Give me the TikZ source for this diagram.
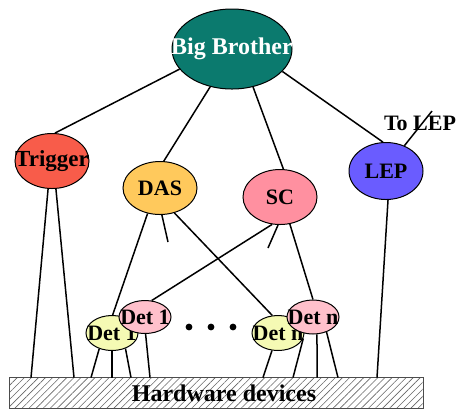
\documentclass[tikz,border=0pt]{standalone}
\usepackage{fontspec}
\setmainfont{Liberation Serif}
\usetikzlibrary{shapes.geometric,patterns.meta}
\definecolor{bbTeal}{HTML}{0B7A6E}
\definecolor{triggerRed}{HTML}{F85C4A}
\definecolor{dasYellow}{HTML}{FFC95C}
\definecolor{scPink}{HTML}{FF90A0}
\definecolor{lepBlue}{HTML}{6A5CFF}
\definecolor{detPink}{HTML}{FFC0CB}
\definecolor{detYellow}{HTML}{F5FAB4}
\newcommand\unitFont{\bfseries\fontsize{11}{13}\selectfont}
\newcommand\detFont{\bfseries\fontsize{8.5}{10}\selectfont}
\tikzset{
  unitEllipse/.style={
    ellipse,
    draw,
    line width=0.5pt,
    inner sep=0pt,
    minimum width=37pt,
    minimum height=27.5pt
  },
  detEllipse/.style={
    unitEllipse,
    minimum width=26pt,
    minimum height=17pt,
    every label/.append style={font=\detFont}
  },
  every label/.style={font=\unitFont, inner sep=0pt},
  link/.style={line width=0.75pt},
  hardwareBox/.style={
    draw=black!70,
    line width=0.5pt,
    pattern={Lines[angle=45,distance=2.5pt,line width=0.3pt]},
    pattern color=black!60,
    minimum width=207pt,
    minimum height=15pt,
    font=\bfseries\fontsize{12}{14}\selectfont
  }
}

\begin{document}
\begin{tikzpicture}[x=0.5pt,y=-0.5pt]
    \useasboundingbox (0,0) rectangle (460,409);

    % top level
    \node[unitEllipse, fill=bbTeal, minimum width=60pt, minimum height=40pt,
      label={[text=white, font=\bfseries\fontsize{12}{14}\selectfont]center:Big Brother}] (bigBrother) at (232,49) {};

    % sub systems
    \node[unitEllipse, fill=triggerRed, label={[font=\bfseries\fontsize{11.5}{13}\selectfont]center:Trigger}] (trigger) at (52,161) {};
    \node[unitEllipse, fill=dasYellow, minimum height=26.5pt, label={center:DAS}] (das) at (160,188) {};
    \node[unitEllipse, fill=scPink, label={center:SC}] (sc) at (280,197) {};
    \node[unitEllipse, fill=lepBlue, minimum height=28.5pt, label={center:LEP}] (lep) at (386,171) {};

    % detectors
    \node[detEllipse, fill=detYellow, minimum height=17.5pt, label={center:Det 1}] (detOneA) at (112,333) {};
    \node[detEllipse, fill=detPink, minimum height=16.5pt, label={center:Det 1}] (detOneB) at (145,317) {};
    \node[detEllipse, fill=detYellow, minimum height=17.5pt, label={center:Det n}] (detNA) at (278,333) {};
    \node[detEllipse, fill=detPink, label={center:Det n}] (detNB) at (313,317) {};

    \foreach \x in {189,211,233} {
      \fill (\x,327) circle (1.7pt);
    }

    % hardware
    \node[hardwareBox] (hardware) at (216,393) {\hspace{8pt}Hardware devices};

    \node[font=\unitFont] (toLepText) at (420,123) {To LEP};
    \coordinate (toLep) at (432,111);
    \coordinate (dasStub) at (168,242);
    \coordinate (scStub) at (268,248);

    % links from the top
    \draw[link] (bigBrother.201) -- (trigger.84);
    \draw[link] (bigBrother.240) -- (das.82);
    \draw[link] (bigBrother.299) -- (sc.83);
    \draw[link] (bigBrother.336) -- (lep.96);
    \draw[link] (lep.54) -- (toLep);

    % links to detectors
    \draw[link] (das.244) -- (detOneA.88);
    \draw[link] (das.274) -- (dasStub);
    \draw[link] (das.300) -- (detNA.108);
    \draw[link] (sc.254) -- (detOneB.68);
    \draw[link] (sc.266) -- (scStub);
    \draw[link] (sc.290) -- (detNB.90);

    % links to hardware
    \foreach \from/\x in {trigger.262/31, trigger.278/74,
      detOneA.231/91, detOneA.270/112, detOneA.311/131, detOneB.272/150,
      detNA.251/263, detNA.348/293, detNB.283/317, detNB.312/338,
      lep.274/377} {
      \draw[link] (\from) -- (\x,0 |- hardware.north);
    }
  \end{tikzpicture}
\end{document}
